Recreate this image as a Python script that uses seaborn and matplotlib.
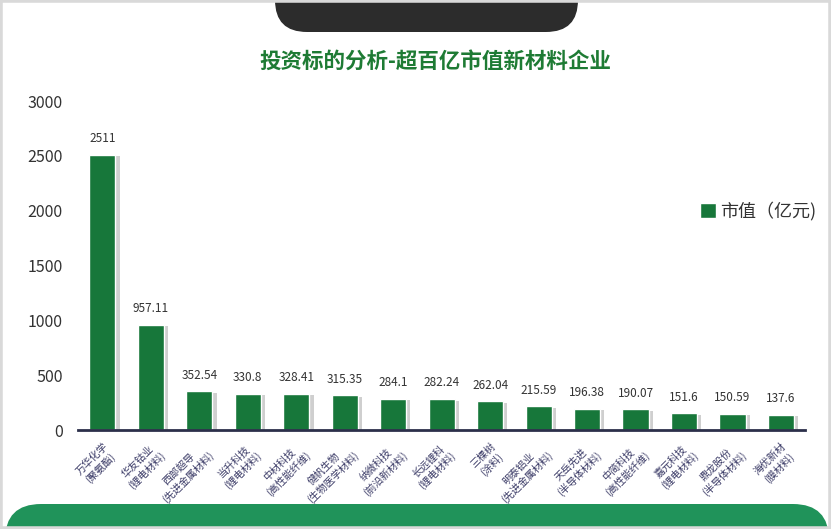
import matplotlib
matplotlib.use('Agg')
import matplotlib.pyplot as plt
import matplotlib.patheffects as pe
from matplotlib.patches import FancyBboxPatch, Rectangle
import seaborn as sns
import pandas as pd

# dados do gráfico
empresas = ['万华化学', '华友钴业', '西部超导', '当升科技', '中材科技', '健帆生物', '纳微科技',
            '长远锂科', '三棵树', '明泰铝业', '天岳先进', '中简科技', '嘉元科技', '鼎龙股份', '海优新材']
setores = ['聚氨酯', '锂电材料', '先进金属材料', '锂电材料', '高性能纤维', '生物医学材料', '前沿新材料',
           '锂电材料', '涂料', '先进金属材料', '半导体材料', '高性能纤维', '锂电材料', '半导体材料', '膜材料']
valores = [2511, 957.11, 352.54, 330.8, 328.41, 315.35, 284.1, 282.24, 262.04, 215.59,
           196.38, 190.07, 151.6, 150.59, 137.6]
rotulos_valor = ['2511', '957.11', '352.54', '330.8', '328.41', '315.35', '284.1', '282.24',
                 '262.04', '215.59', '196.38', '190.07', '151.6', '150.59', '137.6']

df = pd.DataFrame({'empresa': [f'{e}\n({s})' for e, s in zip(empresas, setores)],
                   'valor': valores})

sns.set_style('white')
plt.rcParams['font.family'] = ['Noto Sans CJK SC', 'DejaVu Sans']

verde = '#17773a'
fig = plt.figure(figsize=(8.31, 5.29), dpi=100)
ax = fig.add_axes([0.094, 0.187, 0.875, 0.622])

sns.barplot(data=df, x='empresa', y='valor', color=verde, width=0.54, saturation=1, ax=ax)

for barra in ax.patches:
    barra.set_path_effects([pe.SimplePatchShadow(offset=(3, -1), shadow_rgbFace='#777777', alpha=0.35),
                            pe.Normal()])

ax.bar_label(ax.containers[0], labels=rotulos_valor, padding=7, fontsize=8.5, color='#333333')

ax.set_ylim(0, 3000)
ax.set_xlim(-0.5, len(empresas) - 0.5)
ax.set_yticks(range(0, 3001, 500))
ax.tick_params(axis='y', length=0, pad=11, labelsize=11.5, labelcolor='#333333')
ax.set_xticks(range(len(empresas)))
ax.set_xticklabels(df['empresa'], rotation=45, ha='right', va='top', rotation_mode='anchor',
                   fontsize=7.3, color='#3a3a66', multialignment='center')
ax.tick_params(axis='x', which='major', length=0, pad=8)
ax.set_xticks([i - 0.5 for i in range(len(empresas) + 1)], minor=True)
ax.tick_params(axis='x', which='minor', length=5, width=1.5, color='#2b2f4a', direction='out')
ax.set_xlabel('')
ax.set_ylabel('')
sns.despine(ax=ax, left=True)
ax.spines['bottom'].set_color('#2b2f4a')
ax.spines['bottom'].set_linewidth(2)

# legenda
ax.bar([0], [0], color=verde, label='市值（亿元)')
ax.legend(loc='center left', bbox_to_anchor=(0.833, 0.665), frameon=False, fontsize=13,
          handlelength=0.9, handleheight=0.9, handletextpad=0.2, labelcolor='#333333')

fig.text(0.5235, 0.885, '投资标的分析-超百亿市值新材料企业', ha='center', va='center',
         fontsize=15.5, fontweight='bold', color='#1e7b34')

# decorações da moldura
pol = fig.dpi_scale_trans
fig.patches.append(FancyBboxPatch((2.77, 5.04), 3.0, 1.0, boxstyle='round,pad=0,rounding_size=0.3',
                                  transform=pol, facecolor='#cccccc', edgecolor='none', alpha=0.5, zorder=4))
fig.patches.append(FancyBboxPatch((2.75, 4.97), 3.03, 1.0, boxstyle='round,pad=0,rounding_size=0.32',
                                  transform=pol, facecolor='#2c2c2c', edgecolor='none', zorder=5))
fig.patches.append(FancyBboxPatch((0.05, -0.6), 8.24, 0.85, boxstyle='round,pad=0,rounding_size=0.36',
                                  transform=pol, facecolor='#20935a', edgecolor='none', zorder=5))
fig.patches.append(Rectangle((0, 0), 1, 1, transform=fig.transFigure, facecolor='none',
                             edgecolor='#d9d9d9', linewidth=4, zorder=6))

plt.savefig('out.png', dpi=100)
